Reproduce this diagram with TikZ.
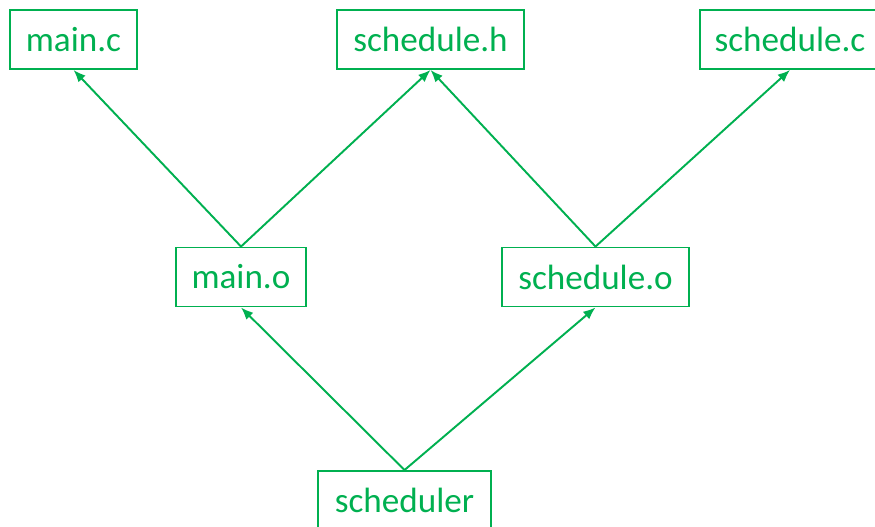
\documentclass[tikz,border=0pt]{standalone}
\usepackage{xcolor}
\usepackage{fontspec}
\setmainfont{Carlito}
\usetikzlibrary{arrows.meta}
\definecolor{filegreen}{RGB}{0,176,80}

\begin{document}
\begin{tikzpicture}[x=0.02cm, y=-0.02cm,
    file/.style={draw=filegreen, line width=1.1pt, text=filegreen, inner sep=0pt,
        minimum height=1.18cm, font=\fontsize{20}{24}\selectfont},
    dep/.style={-{Latex[length=7pt, width=5.6pt]}, draw=filegreen, line width=1.1pt}]
\useasboundingbox (0,0) rectangle (875,527);
% sources
\node[file, minimum width=2.54cm] (mainc) at (73.5, 39.5) {main.c};
\node[file, minimum width=3.74cm] (schedh) at (430.5, 39.5) {schedule.h};
\node[file, minimum width=3.6cm] (schedc) at (790, 39.5) {schedule.c};
% objects
\node[file, minimum width=2.6cm] (maino) at (241, 277) {main.o};
\node[file, minimum width=3.74cm] (schedo) at (595.5, 277) {schedule.o};
% target
\node[file, minimum width=3.46cm] (sched) at (404.5, 500.5) {scheduler};
% dependencies
\foreach \a/\b in {maino/mainc, maino/schedh, schedo/schedh, schedo/schedc, sched/maino, sched/schedo} {
    \draw[dep] (\a.north) -- (\b.south);
}
\end{tikzpicture}
\end{document}
